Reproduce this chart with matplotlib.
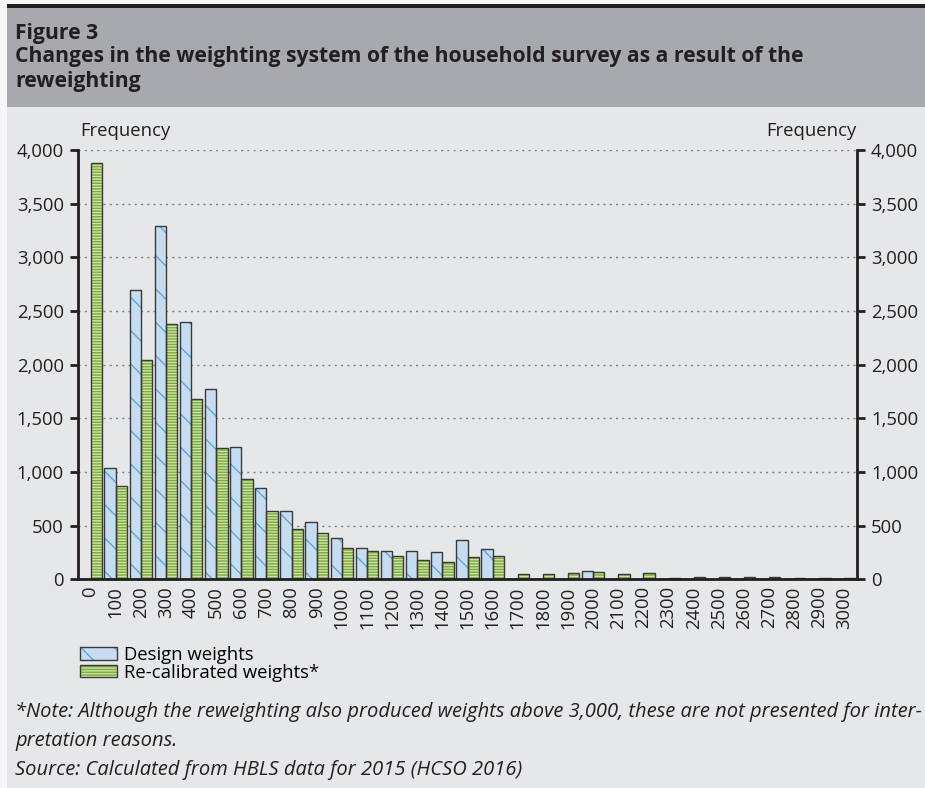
import matplotlib
matplotlib.use('Agg')
import matplotlib.pyplot as plt
from matplotlib.patches import Patch, Rectangle
import numpy as np

plt.rcParams['font.family'] = ['Open Sans', 'DejaVu Sans']

# weight classes (upper bound of class)
categories = [str(v) for v in range(0, 3100, 100)]

design_weights = [0, 1040, 2700, 3295, 2400, 1770, 1235, 850, 640, 537, 382,
                  290, 267, 267, 257, 370, 280, 0, 4, 4, 80,
                  0, 0, 3, 0, 0, 0, 0, 0, 0, 0]
recalibrated_weights = [3875, 873, 2040, 2380, 1680, 1220, 932, 640, 472, 430, 290,
                        262, 214, 177, 164, 211, 217, 46, 46, 57, 66,
                        47, 57, 10, 24, 24, 24, 24, 10, 10, 10]

yticks = [0, 500, 1000, 1500, 2000, 2500, 3000, 3500, 4000]
ytick_labels = ['0', '500', '1,000', '1,500', '2,000', '2,500', '3,000', '3,500', '4,000']

bg = '#E6E7E8'
banner = '#A7A9AC'
txt = '#231F20'
blue_fill, blue_hatch = '#C6DDF1', '#5DA5DC'
green_fill, green_hatch = '#7AAA3C', '#CFE2A6'
edge = '#3A3A3A'

plt.rcParams['hatch.linewidth'] = 1.0

W, H = 925, 788
fig = plt.figure(figsize=(9.25, 7.88), dpi=100, facecolor='#F7F7F7')

def fx(px):
    return px / W

def fy(py):
    return 1 - py / H

# box background, title banner and top rule (behind the axes)
fig.patches.append(Rectangle((fx(7), 0), 1, fy(7), transform=fig.transFigure,
                             facecolor=bg, edgecolor='none', zorder=-3))
fig.patches.append(Rectangle((fx(7), fy(107)), 1, 100 / H, transform=fig.transFigure,
                             facecolor=banner, edgecolor='none', zorder=-2))
fig.patches.append(Rectangle((fx(7), fy(7.5)), 1, 3.5 / H, transform=fig.transFigure,
                             facecolor=txt, edgecolor='none', zorder=-2))

title_lines = ['Figure 3',
               'Changes in the weighting system of the household survey as a result of the',
               'reweighting']
for line, base in zip(title_lines, [39, 62, 87]):
    fig.text(fx(15), fy(base), line, fontsize=15.2, fontweight='bold', color=txt,
             va='baseline', ha='left')

ax = fig.add_axes([fx(78), fy(579.3), (857 - 78) / W, (579.3 - 150) / H])
ax.set_facecolor(bg)

x = np.arange(len(categories))
w = 0.45

# hatched fill first, outline second (hatch colour follows edgecolor)
ax.bar(x - w / 2, design_weights, w, color=blue_fill, hatch='\\', edgecolor=blue_hatch,
       linewidth=0, zorder=2)
ax.bar(x - w / 2, design_weights, w, fill=False, edgecolor=edge, linewidth=1, zorder=3)
ax.bar(x + w / 2, recalibrated_weights, w, color=green_fill, hatch='------',
       edgecolor=green_hatch, linewidth=0, zorder=2)
ax.bar(x + w / 2, recalibrated_weights, w, fill=False, edgecolor=edge, linewidth=1, zorder=3)

ax.set_xlim(-0.5, len(categories) - 0.5)
ax.set_ylim(0, 4000)
ax.set_yticks(yticks)
ax.set_yticklabels(ytick_labels)
ax.set_xticks(x)
ax.set_xticklabels(categories, rotation=90)
ax.tick_params(axis='x', length=0, pad=5, labelsize=13.3, colors=txt)
ax.tick_params(axis='y', length=6, width=2, direction='out', labelsize=13.3,
               colors=txt, right=True, labelright=True, pad=4)

for s in ['left', 'right', 'bottom']:
    ax.spines[s].set_linewidth(2)
    ax.spines[s].set_color(txt)
ax.spines['top'].set_visible(False)
ax.spines['bottom'].set_zorder(4)

ax.yaxis.grid(True, linestyle=(0, (1.5, 3)), color='#808080', linewidth=1)
ax.set_axisbelow(True)

fig.text(fx(80), fy(131), 'Frequency', fontsize=13.3, color=txt, va='center', ha='left')
fig.text(fx(856), fy(131), 'Frequency', fontsize=13.3, color=txt, va='center', ha='right')

h1 = (Patch(facecolor=blue_fill, hatch='\\', edgecolor=blue_hatch, linewidth=0),
      Patch(fill=False, edgecolor=edge, linewidth=1))
h2 = (Patch(facecolor=green_fill, hatch='------', edgecolor=green_hatch, linewidth=0),
      Patch(fill=False, edgecolor=edge, linewidth=1))
fig.legend([h1, h2], ['Design weights', 'Re-calibrated weights*'],
           loc='upper left', bbox_to_anchor=(fx(67), fy(633)), frameon=False,
           fontsize=13.3, handlelength=2.0, handleheight=0.65, labelspacing=-0.02,
           handletextpad=0.4, borderpad=0.2)

notes = ['*Note: Although the reweighting also produced weights above 3,000, these are not presented for inter-',
         'pretation reasons.',
         'Source: Calculated from HBLS data for 2015 (HCSO 2016)']
for line, yc in zip(notes, [712, 741, 770]):
    fig.text(fx(15), fy(yc), line, fontsize=14.5, style='italic', color=txt,
             va='center', ha='left')

fig.savefig('out.png', dpi=100, facecolor=fig.get_facecolor())
